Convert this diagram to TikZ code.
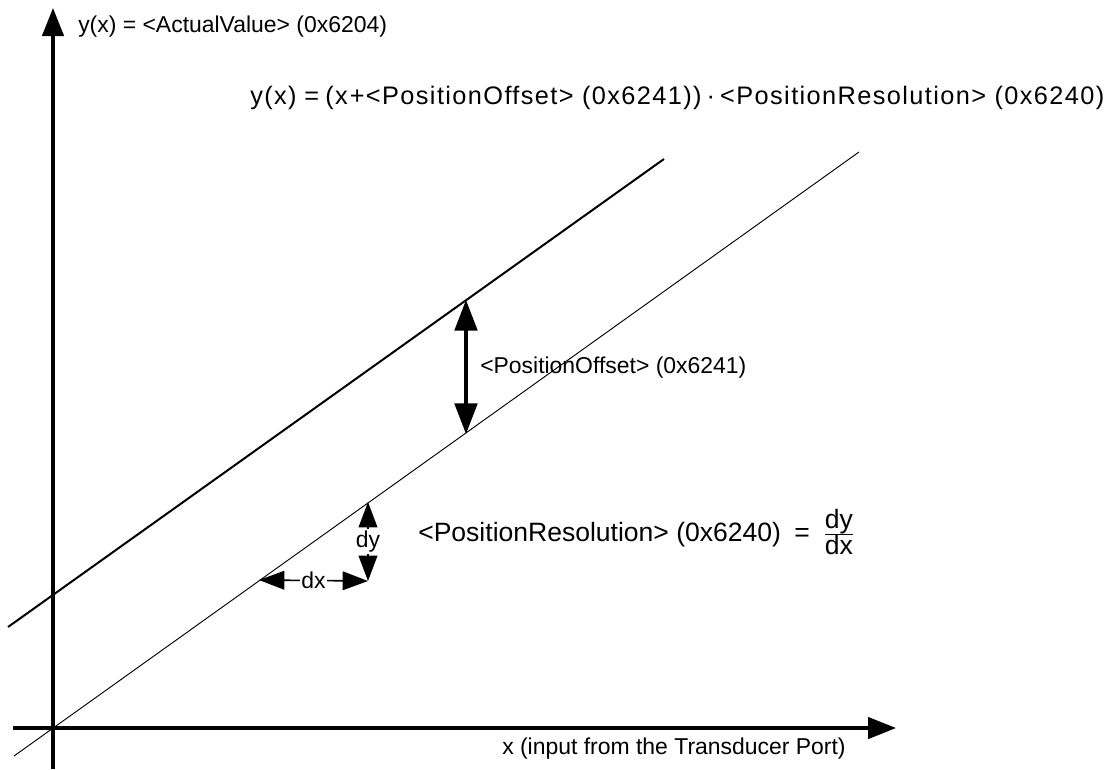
\documentclass[tikz,border=0pt]{standalone}
\usepackage{fontspec}
\setmainfont{Liberation Sans}
\newfontfamily\spacedfont[LetterSpace=5.5]{Liberation Sans}
\usetikzlibrary{arrows.meta}
\begin{document}
\begin{tikzpicture}[x=0.75pt,y=-0.75pt,
  axis/.style={line width=2.6pt,-{Triangle[length=21pt,width=16pt]}},
  thickline/.style={line width=1.5pt},
  thinline/.style={line width=0.7pt},
  offsetarrow/.style={line width=2.4pt,{Triangle[length=23pt,width=17pt]}-{Triangle[length=23pt,width=17pt]}},
  smallarrow/.style={line width=1.2pt,{Triangle[length=19pt,width=14pt]}-{Triangle[length=19pt,width=14pt]}},
  lbl/.style={inner sep=0pt,font=\fontsize{17.2}{20}\selectfont},
  biglbl/.style={inner sep=0pt,font=\fontsize{19.9}{23}\selectfont},
  formlbl/.style={inner sep=0pt,font=\spacedfont\fontsize{19}{23}\selectfont},
  dlbl/.style={fill=white,inner sep=1pt,font=\fontsize{17.2}{20}\selectfont}
]
\useasboundingbox (0,0) rectangle (1109,769);
% axes
\coordinate (yB) at (53,769);
\coordinate (yT) at (53,8);
\coordinate (xL) at (13,728);
\coordinate (xR) at (896,728);
\draw[axis] (yB) -- (yT);
\draw[axis] (xL) -- (xR);
% lines
\coordinate (t1) at (14,756);
\coordinate (t2) at (859,152);
\coordinate (k1) at (8,627);
\coordinate (k2) at (664,159);
\draw[thinline] (t1) -- (t2);
\draw[thickline] (k1) -- (k2);
% offset arrow
\coordinate (oT) at (466,300);
\coordinate (oB) at (466,434);
\draw[offsetarrow] (oT) -- (oB);
% dy and dx
\coordinate (dyT) at (368,502);
\coordinate (dyB) at (368,581);
\coordinate (dxL) at (259,580);
\draw[smallarrow] (dyT) -- node[dlbl] (dy) {dy} (dyB);
\draw[smallarrow] (dxL) -- node[dlbl] (dx) {dx} (dyB);
% labels
\node[lbl,anchor=west] (ylab) at (78,27) {y(x) = <ActualValue> (0x6204)};
\node[lbl,anchor=west] (xlab) at (502,749) {x (input from the Transducer Port)};
\node[lbl,anchor=west] (olab) at (480,368) {<PositionOffset> (0x6241)};
\node[formlbl,anchor=west] (form) at (250,98) {y(x)\hspace{0.3em}=\hspace{0.25em}(x\hspace{0.08em}+\hspace{0.05em}<PositionOffset> (0x6241))\hspace{0.2em}·\hspace{0.2em}<PositionResolution> (0x6240)};
\node[biglbl,anchor=west] (res) at (418,532) {<PositionResolution> (0x6240)\enspace=\enspace$\frac{\mbox{dy}}{\mbox{dx}}$};
\end{tikzpicture}
\end{document}
